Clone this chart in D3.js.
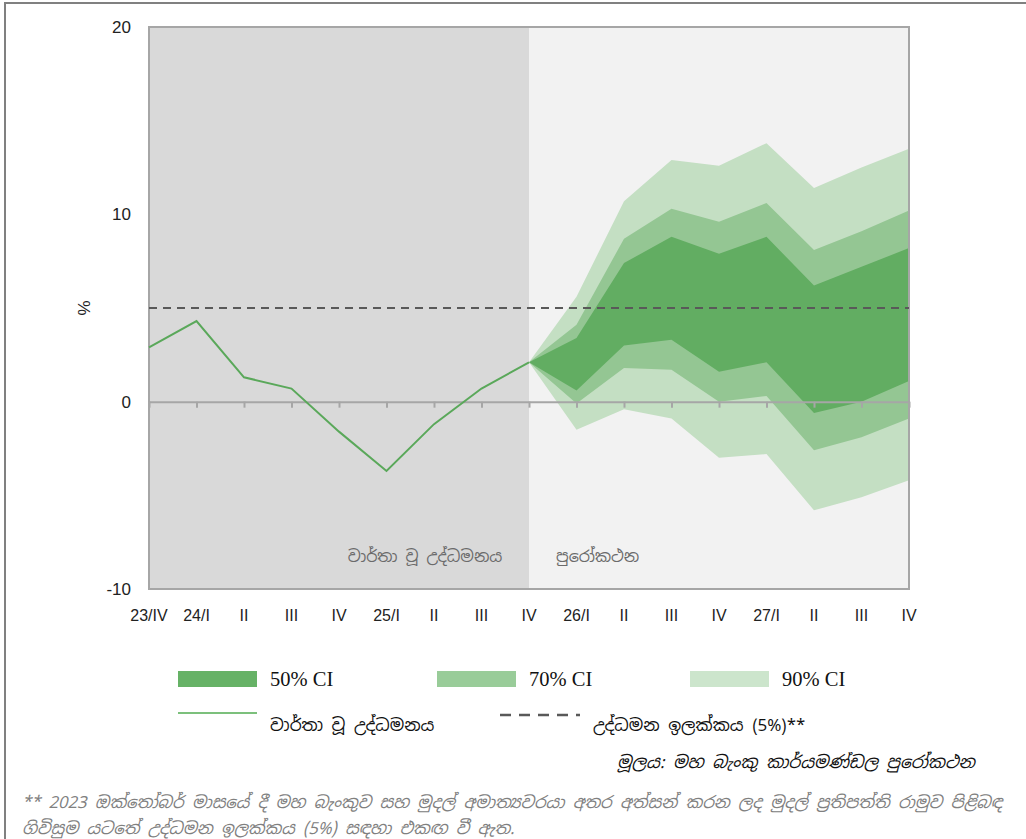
<!DOCTYPE html>
<html>
<head>
<meta charset="utf-8">
<script src="https://cdn.jsdelivr.net/npm/d3@7"></script>
<style>
  body { margin: 0; background: #fff; }
  svg { display: block; }
</style>
</head>
<body>
<svg id="chart"></svg>
<script>
// Inflation projection fan chart (Sinhala)

// Quarter labels along the x axis.
const quarters = ["23/IV", "24/I", "II", "III", "IV", "25/I", "II", "III", "IV",
  "26/I", "II", "III", "IV", "27/I", "II", "III", "IV"];
const yTicks = [-10, 0, 10, 20];

// Reported inflation, 23/IV .. 25/IV.
const actual = [2.9, 4.3, 1.3, 0.7, -1.6, -3.7, -1.2, 0.7, 2.1];

// Forecast bands, 25/IV .. 27/IV (start at last actual value).
const ci90Upper = [2.1, 5.6, 10.7, 12.9, 12.6, 13.8, 11.4, 12.5, 13.5];
const ci70Upper = [2.1, 4.1, 8.7, 10.3, 9.6, 10.6, 8.1, 9.1, 10.2];
const ci50Upper = [2.1, 3.4, 7.4, 8.8, 7.9, 8.8, 6.2, 7.2, 8.2];
const ci50Lower = [2.1, 0.6, 3.0, 3.3, 1.6, 2.1, -0.6, 0.0, 1.1];
const ci70Lower = [2.1, -0.1, 1.8, 1.7, 0.0, 0.3, -2.6, -1.9, -0.9];
const ci90Lower = [2.1, -1.5, -0.4, -0.9, -3.0, -2.8, -5.8, -5.1, -4.2];

const target = 5;
const forecastStart = 8; // index of 25/IV

const legendBands = ["50% CI", "70% CI", "90% CI"];
const bandColors = ["#62ad62", "#94c693", "#c4dfc3"];
const legendColors = ["#66b266", "#99cc99", "#cce5cc"];

const sinhalaFont = "'Noto Sans Sinhala', 'Iskoola Pota', 'Noto Sans', sans-serif";

function drawChart(){
  let width = 1026;
  let height = 839;
  let svg = d3.select('#chart')
    .attr("width", width)
    .attr("height", height);

  // Outer frame (top and left only).
  svg.append('path')
    .attr("d", "M5,839 L5,3 L1026,3")
    .attr("fill", "none")
    .attr("stroke", "#808080")
    .attr("stroke-width", 2);

  let plot = { left: 149, right: 909, top: 27, bottom: 589 };

  let xScale = d3.scalePoint()
    .domain(d3.range(quarters.length))
    .range([plot.left, plot.right]);
  let yScale = d3.scaleLinear()
    .domain([-10, 20])
    .range([plot.bottom, plot.top]);

  // Background shading: history vs forecast.
  let xSplit = xScale(forecastStart);
  svg.append('rect')
    .attr("x", plot.left).attr("y", plot.top)
    .attr("width", xSplit - plot.left).attr("height", plot.bottom - plot.top)
    .attr("fill", "#d9d9d9");
  svg.append('rect')
    .attr("x", xSplit).attr("y", plot.top)
    .attr("width", plot.right - xSplit).attr("height", plot.bottom - plot.top)
    .attr("fill", "#f2f2f2");

  // Fan bands.
  let fcIdx = d3.range(forecastStart, quarters.length);
  let band = (lo, hi) => d3.area()
    .x((d, i) => xScale(fcIdx[i]))
    .y0((d, i) => yScale(lo[i]))
    .y1((d, i) => yScale(hi[i]))(fcIdx);
  let bands = [[ci90Lower, ci90Upper], [ci70Lower, ci70Upper], [ci50Lower, ci50Upper]];
  bands.forEach((b, k) => {
    svg.append('path')
      .attr("d", band(b[0], b[1]))
      .attr("fill", bandColors[2 - k]);
  });

  // Plot border.
  svg.append('rect')
    .attr("x", plot.left).attr("y", plot.top)
    .attr("width", plot.right - plot.left).attr("height", plot.bottom - plot.top)
    .attr("fill", "none")
    .attr("stroke", "#a6a6a6")
    .attr("stroke-width", 2);

  // Zero line with tick marks.
  let xAxis = d3.axisBottom(xScale)
    .tickSize(6)
    .tickSizeOuter(0)
    .tickFormat("");
  let gx = svg.append('g')
    .attr("transform", `translate(0,${yScale(0)})`)
    .call(xAxis);
  gx.select('.domain').attr("stroke", "#a6a6a6").attr("stroke-width", 2);
  gx.selectAll('.tick line').attr("stroke", "#a6a6a6").attr("stroke-width", 2);

  // Target line.
  svg.append('line')
    .attr("x1", plot.left).attr("x2", plot.right)
    .attr("y1", yScale(target)).attr("y2", yScale(target))
    .attr("stroke", "#595959")
    .attr("stroke-width", 2)
    .attr("stroke-dasharray", "8,6");

  // Reported inflation line.
  let line = d3.line()
    .x((d, i) => xScale(i))
    .y(d => yScale(d));
  svg.append('path')
    .attr("d", line(actual))
    .attr("fill", "none")
    .attr("stroke", "#5aa85a")
    .attr("stroke-width", 2);

  // Y tick labels.
  svg.selectAll('.ylab')
    .data(yTicks)
    .join('text')
    .attr("x", 131)
    .attr("y", d => yScale(d) + 6)
    .attr("text-anchor", "end")
    .attr("font-family", "'Liberation Sans', Arial, sans-serif")
    .attr("font-size", 17)
    .attr("fill", "#222")
    .text(d => d);
  svg.append('text')
    .attr("transform", `translate(90,${yScale(5)}) rotate(-90)`)
    .attr("text-anchor", "middle")
    .attr("font-family", "'Liberation Sans', Arial, sans-serif")
    .attr("font-size", 17)
    .attr("fill", "#222")
    .text("%");

  // X tick labels.
  svg.selectAll('.xlab')
    .data(quarters)
    .join('text')
    .attr("x", (d, i) => xScale(i))
    .attr("y", 621)
    .attr("text-anchor", "middle")
    .attr("font-family", "'Liberation Sans', Arial, sans-serif")
    .attr("font-size", 16)
    .attr("fill", "#222")
    .text(d => d);

  // Region labels.
  svg.append('text')
    .attr("x", 425).attr("y", 562)
    .attr("text-anchor", "middle")
    .attr("font-family", sinhalaFont)
    .attr("font-size", 16)
    .attr("fill", "#6b6b6b")
    .text("වාර්තා වූ උද්ධමනය");
  svg.append('text')
    .attr("x", 556).attr("y", 562)
    .attr("font-family", sinhalaFont)
    .attr("font-size", 16)
    .attr("fill", "#6b6b6b")
    .text("පුරෝකථන");

  // Legend.
  let legendX = [178, 437, 690];
  legendBands.forEach((name, k) => {
    svg.append('rect')
      .attr("x", legendX[k]).attr("y", 671)
      .attr("width", 79).attr("height", 16)
      .attr("fill", legendColors[k]);
    svg.append('text')
      .attr("x", legendX[k] + 92).attr("y", 686)
      .attr("font-family", "'Liberation Serif', 'Times New Roman', serif")
      .attr("font-size", 20.5)
      .attr("fill", "#111")
      .text(name);
  });
  svg.append('line')
    .attr("x1", 178).attr("x2", 257).attr("y1", 713).attr("y2", 713)
    .attr("stroke", "#7cc07c").attr("stroke-width", 2);
  svg.append('text')
    .attr("x", 270).attr("y", 731)
    .attr("font-family", sinhalaFont)
    .attr("font-size", 17)
    .attr("fill", "#111")
    .text("වාර්තා වූ උද්ධමනය");
  svg.append('line')
    .attr("x1", 500).attr("x2", 580).attr("y1", 715).attr("y2", 715)
    .attr("stroke", "#595959").attr("stroke-width", 2.5)
    .attr("stroke-dasharray", "11,8");
  svg.append('text')
    .attr("x", 593).attr("y", 731)
    .attr("font-family", sinhalaFont)
    .attr("font-size", 17)
    .attr("fill", "#111")
    .text("උද්ධමන ඉලක්කය (5%)**");

  // Source.
  svg.append('text')
    .attr("x", 975).attr("y", 768)
    .attr("text-anchor", "end")
    .attr("font-family", sinhalaFont)
    .attr("font-style", "italic")
    .attr("font-size", 17)
    .attr("fill", "#111")
    .text("මූලය: මහ බැංකු කාර්යමණ්ඩල පුරෝකථන");

  // Footnote.
  let notes = [
    "** 2023 ඔක්තෝබර් මාසයේ දී මහ බැංකුව සහ මුදල් අමාත්‍යවරයා අතර අත්සන් කරන ලද මුදල් ප්‍රතිපත්ති රාමුව පිළිබඳ",
    "ගිවිසුම යටතේ උද්ධමන ඉලක්කය (5%) සඳහා එකඟ වී ඇත."
  ];
  svg.selectAll('.note')
    .data(notes)
    .join('text')
    .attr("x", 22)
    .attr("y", (d, i) => 808 + i * 26)
    .attr("font-family", sinhalaFont)
    .attr("font-style", "italic")
    .attr("font-size", 16.6)
    .attr("fill", "#808080")
    .text(d => d);
}

drawChart();
</script>
</body>
</html>
